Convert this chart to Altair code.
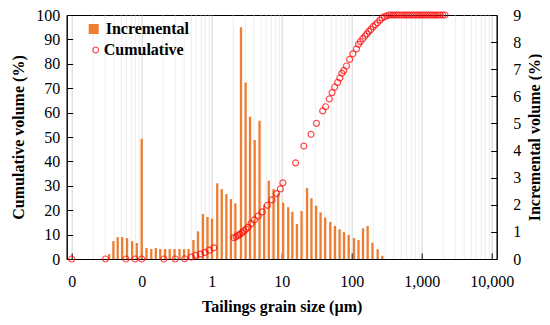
import altair as alt
import pandas as pd

FONT = "Liberation Serif"

# Incremental volume (%) bars: grain size (um) and value (right axis)
bar_size = [0.0343, 0.0394, 0.0454, 0.0526, 0.0618, 0.073, 0.0851, 0.1, 0.117, 0.137,
            0.159, 0.184, 0.216, 0.251, 0.295, 0.347, 0.403, 0.467, 0.548, 0.638,
            0.749, 0.871, 1.01, 1.2, 1.39, 1.62, 1.88, 2.18, 2.62, 3.05,
            3.53, 4.11, 4.82, 5.61, 6.54, 7.64, 8.88, 10.5, 12.4, 14.2,
            16.5, 19.2, 23.0, 26.6, 31.0, 35.9, 41.8, 49.5, 57.6, 67.1,
            77.6, 90.6, 108, 125, 145, 169, 198, 235, 274]
bar_incr = [0.18, 0.66, 0.81, 0.81, 0.77, 0.66, 0.59, 4.43, 0.41, 0.37,
            0.41, 0.37, 0.37, 0.37, 0.37, 0.37, 0.37, 0.37, 0.70, 1.02,
            1.66, 1.55, 1.49, 2.79, 2.58, 2.39, 2.21, 2.05, 8.55, 6.51,
            5.25, 4.39, 5.10, 2.0, 2.89, 2.58, 2.42, 2.08, 1.91, 1.74,
            1.29, 1.77, 2.62, 2.24, 1.97, 1.72, 1.53, 1.37, 1.22, 1.10,
            0.99, 0.89, 0.77, 0.70, 1.13, 1.22, 0.60, 0.36, 0.12]

# Cumulative volume (%) points (left axis)
cum_size = [0.01, 0.0304, 0.0596, 0.0806, 0.1, 0.207, 0.30, 0.41, 0.51, 0.59,
            0.69, 0.80, 0.92, 1.07,
            2.07, 2.23, 2.38, 2.54, 2.71, 2.89, 3.08, 3.31, 3.65, 4.07,
            4.62, 5.26, 6.24, 7.26, 8.41, 9.56, 10.4, 15.8, 20.7, 26.2,
            31.4, 38.5, 42.4, 47.9, 52.5, 57.2, 63.0, 67.8, 72.3, 77.1,
            84.1, 93.5, 104, 117, 125, 133, 144, 155, 165, 176,
            188, 202, 218, 233, 253, 273, 294, 317,
            340, 365, 390, 420, 450, 480, 520, 560, 600, 640,
            690, 740, 790, 850, 910, 980, 1050, 1130, 1210, 1300,
            1400, 1500, 1600, 1720, 1850, 2000, 2150]
cum_vol = [0, 0, 0, 0, 0, 0, 0, 0.1, 0.8, 1.5,
           2.0, 2.7, 3.6, 4.6,
           8.7, 9.1, 9.7, 10.2, 10.8, 11.5, 12.2, 13.0, 14.5, 16.0,
           17.6, 19.3, 22.0, 24.2, 26.8, 28.7, 31.2, 39.4, 46.3, 51.1,
           55.6, 60.7, 62.4, 65.6, 68.2, 70.4, 72.4, 74.2, 76.1, 77.2,
           79.1, 81.8, 84.1, 86.1, 88.0, 89.1, 90.3, 91.4, 92.3, 93.3,
           94.1, 95.2, 96.0, 96.8, 97.9, 98.8, 99.3, 99.7,
           100, 100, 100, 100, 100, 100, 100, 100, 100, 100,
           100, 100, 100, 100, 100, 100, 100, 100, 100, 100,
           100, 100, 100, 100, 100, 100, 100]

# axis tick values
x_ticks = [m * 10.0 ** e for e in range(-2, 4) for m in range(1, 10)] + [10000.0]
left_ticks = [0, 10, 20, 30, 40, 50, 60, 70, 80, 90, 100]
right_ticks = [0, 1, 2, 3, 4, 5, 6, 7, 8, 9]

bars_df = pd.DataFrame({"size": bar_size, "incr": bar_incr, "s": "Incremental"})
cum_df = pd.DataFrame({"size": cum_size, "cum": cum_vol, "s": "Cumulative"})

DEC = "abs(log(datum.value)/LN10 - round(log(datum.value)/LN10)) < 0.001"

x_scale = alt.Scale(type="log", domain=[0.01, 10000], nice=False)
x_axis = alt.Axis(
    values=x_ticks,
    labelExpr=f"({DEC}) ? format(datum.value, ',.0f') : ''",
    grid=True,
    gridColor={"condition": {"test": DEC, "value": "#d4d4d4"}, "value": "#ededed"},
    tickOpacity={"condition": {"test": DEC, "value": 1}, "value": 0},
    tickSize=alt.ExprRef(expr="-6"),
    tickColor="black",
    labelPadding=20,
    labelFlush=False,
    labelOverlap=False,
    labelFont=FONT, labelFontSize=16, labelColor="black",
    title="Tailings grain size (\u00b5m)",
    titleFont=FONT, titleFontSize=16, titleFontWeight="bold", titleColor="black",
    titlePadding=9,
    domainColor="black",
)

bars = alt.Chart(bars_df).mark_bar(size=2.3).encode(
    x=alt.X("size:Q", scale=x_scale, axis=x_axis),
    y=alt.Y("incr:Q", scale=alt.Scale(domain=[0, 9], nice=False),
            axis=alt.Axis(orient="right", values=right_ticks, grid=False,
                          tickSize=alt.ExprRef(expr="-6"), tickColor="black",
                          labelPadding=22, labelFlush=False,
                          labelFont=FONT, labelFontSize=16, labelColor="black",
                          title="Incremental volume (%)", titleAngle=270,
                          titleBaseline="top",
                          titleFont=FONT, titleFontSize=16, titleFontWeight="bold",
                          titleColor="black", titlePadding=6, domainColor="black")),
    color=alt.Color("s:N", scale=alt.Scale(domain=["Incremental"], range=["#ED7D31"]),
                    legend=alt.Legend(orient="none", legendX=19, legendY=6, title=None,
                                      symbolType="square", symbolSize=100,
                                      symbolStrokeWidth=0,
                                      labelFont=FONT, labelFontSize=16,
                                      labelFontWeight="bold", labelColor="black")),
)

points = alt.Chart(cum_df).mark_point(filled=False, size=36, strokeWidth=1.2).encode(
    x=alt.X("size:Q", scale=x_scale, axis=x_axis),
    y=alt.Y("cum:Q", scale=alt.Scale(domain=[0, 100], nice=False),
            axis=alt.Axis(orient="left", values=left_ticks, grid=False,
                          tickSize=alt.ExprRef(expr="-6"), tickColor="black",
                          labelPadding=13, labelFlush=False,
                          labelFont=FONT, labelFontSize=16, labelColor="black",
                          title="Cumulative volume (%)",
                          titleFont=FONT, titleFontSize=16, titleFontWeight="bold",
                          titleColor="black", titlePadding=9, domainColor="black")),
    stroke=alt.Stroke("s:N", scale=alt.Scale(domain=["Cumulative"], range=["#FF0000"]),
                      legend=alt.Legend(orient="none", legendX=21, legendY=27, title=None,
                                        symbolType="circle", symbolSize=32,
                                        symbolStrokeWidth=1.2, labelOffset=0,
                                        labelFont=FONT, labelFontSize=16,
                                        labelFontWeight="bold", labelColor="black")),
)

chart = alt.layer(bars, points).resolve_scale(
    y="independent", color="independent", stroke="independent"
).properties(
    width=430, height=244,
    autosize=alt.AutoSizeParams(type="none"),
    padding={"left": 58.7, "top": 7, "right": 45.3, "bottom": 60},
    background="white",
).configure_view(stroke="black", strokeWidth=1)

chart.save("out.html", embed_options={"renderer": "svg", "actions": False})
